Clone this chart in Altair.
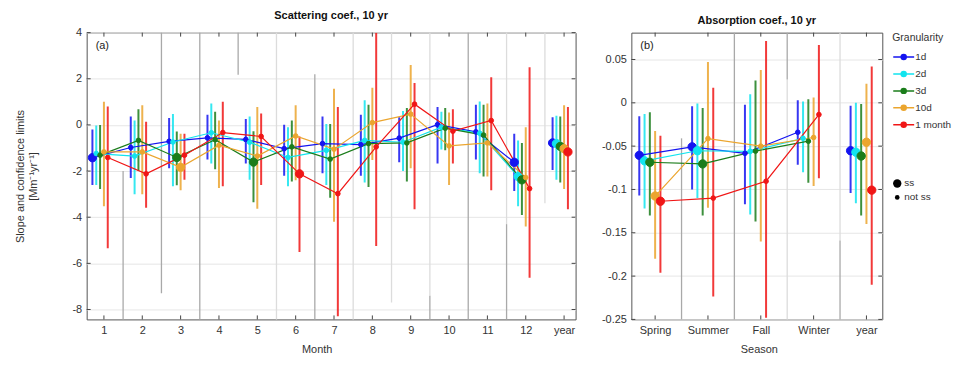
import altair as alt
import pandas as pd

FONT = "Liberation Sans"

granularity = ["1d", "2d", "3d", "10d", "1 month"]
gran_colors = ["#1414f0", "#12e4ee", "#1b7d1b", "#eba52e", "#f01616"]
sig_labels = ["ss", "not ss"]

month_labels = ["1", "2", "3", "4", "5", "6", "7", "8", "9", "10", "11", "12", "year"]
season_labels = ["Spring", "Summer", "Fall", "Winter", "year"]

# ---------------- Scattering coefficient (per month + year) ----------------
sc_1d = [-1.42, -0.98, -0.71, -0.56, -0.63, -1.03, -0.81, -0.85, -0.57, 0.01, -0.30, -1.62, -0.78]
sc_1d_lo = [-2.60, -2.30, -1.88, -1.50, -1.67, -2.20, -2.10, -2.20, -1.62, -1.67, -1.50, -2.86, -1.95]
sc_1d_hi = [-0.20, 0.36, 0.30, 0.44, 0.26, 0.01, 0.37, 0.44, 0.33, 0.78, 0.87, -0.38, 0.33]
sc_1d_ss = [1, 0, 0, 0, 0, 0, 0, 0, 0, 0, 0, 1, 1]

sc_2d = [-1.24, -1.35, -0.74, -0.34, -0.75, -1.41, -1.10, -0.67, -0.75, -0.10, -0.36, -2.24, -0.81]
sc_2d_lo = [-2.60, -3.00, -2.66, -1.67, -2.38, -2.66, -2.60, -2.50, -2.00, -1.07, -2.10, -3.52, -2.38]
sc_2d_hi = [-0.03, 0.19, 0.47, 0.93, 0.36, -0.10, 0.04, 1.07, 0.60, 0.57, 1.01, -0.67, 0.40]
sc_2d_ss = [0, 0, 0, 0, 0, 0, 0, 0, 0, 0, 0, 1, 1]

sc_3d = [-1.31, -0.67, -1.41, -0.64, -1.61, -0.95, -1.48, -0.81, -0.78, -0.14, -0.44, -2.38, -0.93]
sc_3d_lo = [-2.78, -2.00, -2.62, -1.92, -3.35, -2.45, -3.16, -2.69, -2.45, -1.10, -2.24, -3.90, -2.50]
sc_3d_hi = [0.00, 0.68, -0.28, 0.57, -0.27, 0.19, 0.04, 0.87, 0.73, 0.73, 0.87, -0.78, 0.36]
sc_3d_ss = [0, 0, 1, 0, 1, 0, 0, 0, 0, 0, 0, 1, 1]

sc_10d = [-1.17, -1.17, -1.84, -0.88, -1.35, -0.48, -1.05, 0.10, 0.47, -0.91, -0.78, -2.28, -1.03]
sc_10d_lo = [-3.52, -3.00, -2.83, -2.73, -3.63, -2.40, -4.20, -1.52, -1.88, -2.60, -2.24, -4.40, -2.78]
sc_10d_hi = [1.00, 0.85, -0.38, 0.19, 0.78, 0.85, 1.57, 1.61, 2.60, 0.54, 0.93, -0.10, 0.85]
sc_10d_ss = [0, 0, 1, 0, 0, 0, 0, 0, 0, 0, 0, 0, 1]

sc_1m = [-1.41, -2.12, -1.31, -0.33, -0.50, -2.12, -2.98, -0.95, 0.90, -0.27, 0.19, -2.76, -1.17]
sc_1m_lo = [-5.34, -3.59, -2.38, -2.66, -2.60, -5.51, -8.29, -5.25, -3.66, -1.67, -2.83, -6.62, -3.66]
sc_1m_hi = [0.80, 0.14, -0.38, 1.00, 0.50, -0.50, 0.78, 4.00, 1.82, 0.68, 2.07, 2.50, 0.78]
sc_1m_ss = [0, 0, 0, 0, 0, 1, 0, 0, 0, 0, 0, 0, 1]

# ---------------- Absorption coefficient (per season + year) ----------------
ab_1d = [-0.0606, -0.0508, -0.0583, -0.0340, -0.0553]
ab_1d_lo = [-0.107, -0.100, -0.117, -0.0716, -0.104]
ab_1d_hi = [-0.0155, -0.0040, -0.0023, 0.0030, -0.0034]
ab_1d_ss = [1, 1, 0, 0, 1]

ab_2d = [-0.0670, -0.0553, -0.0560, -0.0410, -0.0570]
ab_2d_lo = [-0.122, -0.110, -0.129, -0.080, -0.116]
ab_2d_hi = [-0.0129, -0.0008, 0.0098, 0.0015, 0.0000]
ab_2d_ss = [1, 1, 0, 0, 1]

ab_3d = [-0.0686, -0.0705, -0.0557, -0.0443, -0.0614]
ab_3d_lo = [-0.130, -0.130, -0.137, -0.0924, -0.130]
ab_3d_hi = [-0.0110, -0.0060, 0.0258, 0.0040, -0.0015]
ab_3d_ss = [1, 1, 0, 0, 1]

ab_10d = [-0.1076, -0.0413, -0.0500, -0.0400, -0.0455]
ab_10d_lo = [-0.180, -0.121, -0.160, -0.096, -0.140]
ab_10d_hi = [-0.0326, 0.0470, 0.0380, 0.0060, 0.0220]
ab_10d_ss = [1, 0, 0, 0, 1]

ab_1m = [-0.1136, -0.1100, -0.0905, -0.0136, -0.1008]
ab_1m_lo = [-0.196, -0.2235, -0.248, -0.087, -0.210]
ab_1m_hi = [-0.0380, 0.0174, 0.0712, 0.0667, 0.0420]
ab_1m_ss = [1, 0, 0, 0, 1]

# separator lines between categories (x, low, high) in data units
sc_sep_dark = [(1.5, -8.43, -2.0), (2.5, -7.3, 4.0), (3.5, -8.43, 4.0), (4.5, 2.17, 4.0),
               (6.5, -8.43, 2.2), (9.5, -8.43, -7.4), (10.5, -8.43, 4.0), (11.5, -8.43, -4.3)]
sc_sep_light = [(5.5, -8.43, 4.0), (7.5, -8.43, 4.0), (8.5, -7.7, 4.0), (9.5, -7.4, 4.0),
                (11.5, -4.3, 4.0), (12.5, -3.4, 4.0)]
ab_sep_dark = [(1.5, -0.25, -0.041), (2.5, -0.25, 0.081), (3.5, 0.027, 0.081), (4.5, -0.25, -0.159)]
ab_sep_light = [(3.5, -0.25, 0.027), (4.5, -0.159, 0.081)]

sc_yticks = [-8, -6, -4, -2, 0, 2, 4]
ab_yticks = [-0.25, -0.2, -0.15, -0.1, -0.05, 0, 0.05]


def build(series):
    rows = []
    for k, (g, (val, lo, hi, ss)) in enumerate(zip(granularity, series)):
        for i in range(len(val)):
            rows.append({"gran": g, "k": k, "idx": i + 1, "val": val[i], "lo": lo[i],
                         "hi": hi[i], "sig": "ss" if ss[i] else "not ss"})
    return pd.DataFrame(rows)


def seps(lst):
    return pd.DataFrame(lst, columns=["x", "lo", "hi"])


sc_df = build([(sc_1d, sc_1d_lo, sc_1d_hi, sc_1d_ss), (sc_2d, sc_2d_lo, sc_2d_hi, sc_2d_ss),
               (sc_3d, sc_3d_lo, sc_3d_hi, sc_3d_ss), (sc_10d, sc_10d_lo, sc_10d_hi, sc_10d_ss),
               (sc_1m, sc_1m_lo, sc_1m_hi, sc_1m_ss)])
ab_df = build([(ab_1d, ab_1d_lo, ab_1d_hi, ab_1d_ss), (ab_2d, ab_2d_lo, ab_2d_hi, ab_2d_ss),
               (ab_3d, ab_3d_lo, ab_3d_hi, ab_3d_ss), (ab_10d, ab_10d_lo, ab_10d_hi, ab_10d_ss),
               (ab_1m, ab_1m_lo, ab_1m_hi, ab_1m_ss)])

gscale = alt.Scale(domain=granularity, range=gran_colors)
LEG_PATH = "M-1,0H3.2M0.6,0A0.5,0.5,0,1,1,1.6,0A0.5,0.5,0,1,1,0.6,0Z"
glegend = alt.Legend(title="Granularity", orient="right", offset=1,
                     symbolType=LEG_PATH, symbolSize=100, symbolStrokeWidth=1.5,
                     labelOffset=11, rowPadding=5, titlePadding=8, symbolOpacity=1)
slegend = alt.Legend(title=" ", orient="right", offset=9, titlePadding=30,
                     symbolType="circle", rowPadding=0, labelOffset=2)
sscale = alt.Scale(domain=sig_labels, range=[70, 22])

MINUS_FIX = "replace(format(datum.value, '~g'), '\u2212', '-')"
PLOT_H = 288
TICK = 4


def panel(df, sep_dark, sep_light, labels, ydom, yvals, title, xtitle, ytitle, tag, nlink,
          width, xtitle_x):
    nx = len(labels)
    arr = "[" + ",".join("'" + s + "'" for s in labels) + "]"
    xs = alt.Scale(domain=[0.55, nx + 0.3], nice=False, zero=False)
    xa = alt.Axis(values=list(range(1, nx + 1)), labelExpr=arr + "[datum.value - 1]",
                  title=xtitle, grid=False, ticks=False, domain=False,
                  labelPadding=5, titlePadding=8, titleX=xtitle_x)
    ys = alt.Scale(domain=ydom, nice=False, zero=False)
    ya = alt.Axis(values=yvals, labelExpr=MINUS_FIX, title=ytitle, grid=True,
                  ticks=False, domain=False, labelPadding=5, titlePadding=34,
                  titleLineHeight=13)

    X = alt.X("x:Q", scale=xs, axis=xa)
    Y = alt.Y("val:Q", scale=ys, axis=ya)

    sd = alt.Chart(seps(sep_dark)).mark_rule(color="#a9a9a9", strokeWidth=1.3).encode(
        x=X, y=alt.Y("lo:Q", scale=ys, axis=ya), y2="hi:Q")
    sl = alt.Chart(seps(sep_light)).mark_rule(color="#dcdcdc", strokeWidth=1.3).encode(
        x=X, y=alt.Y("lo:Q", scale=ys, axis=ya), y2="hi:Q")

    # inward tick marks on all four sides of the frame
    xt = alt.Chart(pd.DataFrame({"x": list(range(1, nx + 1))}))
    yt = alt.Chart(pd.DataFrame({"val": yvals}))
    tick_style = dict(color="#444", strokeWidth=1)
    t_top = xt.mark_rule(**tick_style).encode(x=X, y=alt.value(0), y2=alt.value(TICK))
    t_bot = xt.mark_rule(**tick_style).encode(x=X, y=alt.value(PLOT_H - TICK), y2=alt.value(PLOT_H))
    t_lft = yt.mark_rule(**tick_style).encode(y=Y, x=alt.value(0), x2=alt.value(TICK))
    t_rgt = yt.mark_rule(**tick_style).encode(y=Y, x=alt.value(width - TICK), x2=alt.value(width))

    base = alt.Chart(df).transform_calculate(x="datum.idx + (datum.k - 3) * 0.1")
    bars = base.mark_rule(strokeWidth=2, opacity=0.85, clip=True).encode(
        x=X, y=alt.Y("lo:Q", scale=ys, axis=ya), y2="hi:Q",
        stroke=alt.Stroke("gran:N", scale=gscale, legend=glegend))
    lines = base.transform_filter(f"datum.idx <= {nlink}").mark_line(strokeWidth=1.2).encode(
        x=X, y=Y, stroke=alt.Stroke("gran:N", scale=gscale, legend=glegend))
    pts = base.mark_point(filled=True, opacity=1, strokeWidth=1).encode(
        x=X, y=Y,
        fill=alt.Fill("gran:N", scale=gscale, legend=glegend),
        stroke=alt.Stroke("gran:N", scale=gscale, legend=glegend),
        size=alt.Size("sig:O", scale=sscale, sort=sig_labels, legend=slegend))
    lab = alt.Chart(pd.DataFrame({"t": [tag]})).mark_text(
        align="left", baseline="middle", fontSize=11, font=FONT, color="#222").encode(
        text="t:N", x=alt.value(9), y=alt.value(13))

    return alt.layer(sl, sd, t_top, t_bot, t_lft, t_rgt, bars, lines, pts, lab).properties(
        width=width, height=PLOT_H,
        title=alt.TitleParams(title, fontSize=11, fontWeight="bold", font=FONT,
                              anchor="middle", offset=6, color="#111"))


left = panel(sc_df, sc_sep_dark, sc_sep_light, month_labels, [-8.43, 4.0], sc_yticks,
             "Scattering coef., 10 yr", "Month",
             ["Slope and confidence limits", "[Mm\u207b\u00b9yr\u207b\u00b9]"], "(a)", 12, 491, 231)
right = panel(ab_df, ab_sep_dark, ab_sep_light, season_labels, [-0.25, 0.081], ab_yticks,
              "Absorption coef., 10 yr", "Season", None, "(b)", 4, 252, 128)

chart = alt.hconcat(left, right, spacing=24).properties(
    padding={"left": 5, "top": 0, "right": 0, "bottom": 0}
).configure_view(stroke="#555", strokeWidth=1).configure_axis(
    labelFont=FONT, labelFontSize=11, labelColor="#333", titleFont=FONT,
    titleFontSize=11, titleFontWeight="normal", titleColor="#333",
    gridColor="#e6e6e6", gridWidth=1
).configure_legend(
    labelFont=FONT, labelFontSize=10, labelColor="#333", titleFont=FONT,
    titleFontSize=10.5, titleFontWeight="normal", titleColor="#333"
)

chart.save("out.html", embed_options={"renderer": "svg", "actions": False})
